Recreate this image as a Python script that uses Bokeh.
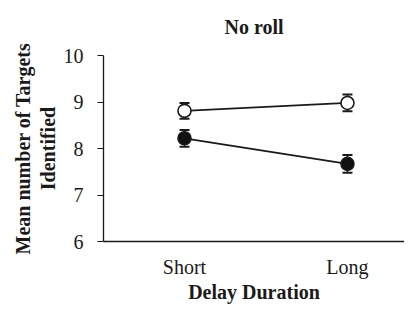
from bokeh.plotting import figure
from bokeh.models import FixedTicker, Whisker, ColumnDataSource, Range1d, Title
from bokeh.embed import file_html
from bokeh.resources import INLINE

categories = ["Short", "Long"]
x_pos = [1, 2]
open_mean = [8.81, 8.98]
open_err = [0.17, 0.18]
filled_mean = [8.22, 7.67]
filled_err = [0.18, 0.19]
y_ticks = [6, 7, 8, 9, 10]
title_text = "No roll"

FONT = "Liberation Serif"
INK = "#1a1a1a"

p = figure(width=404, height=305, output_backend="svg", toolbar_location=None,
           x_range=Range1d(0.503, 2.350), y_range=Range1d(6, 10),
           min_border_left=103, min_border_right=0, min_border_top=0, min_border_bottom=56)
p.title = Title(text=title_text, align="center", vertical_align="top", text_font=FONT,
                text_font_size="20px", text_font_style="bold", text_color=INK, standoff=31)
p.outline_line_color = None
p.grid.visible = False
p.background_fill_color = "white"

p.xaxis.ticker = FixedTicker(ticks=x_pos)
p.xaxis.major_label_overrides = {x: c for x, c in zip(x_pos, categories)}
p.xaxis.major_tick_line_color = None
p.xaxis.major_tick_in = 0
p.xaxis.major_tick_out = 0
p.xaxis.minor_tick_line_color = None
p.xaxis.axis_label = "Delay Duration"
p.yaxis.ticker = FixedTicker(ticks=y_ticks)
p.yaxis.minor_tick_line_color = None
p.yaxis.major_tick_in = 0
p.yaxis.major_tick_out = 6
p.yaxis.major_tick_line_color = INK
p.yaxis.major_tick_line_width = 1.2
p.yaxis.axis_label = "Mean number of Targets\nIdentified"
p.yaxis.axis_label_text_line_height = 1.1
for ax in (p.xaxis, p.yaxis):
    ax.axis_line_color = INK
    ax.axis_line_width = 1.3
    ax.major_label_text_font = FONT
    ax.major_label_text_font_size = "20px"
    ax.major_label_text_color = INK
    ax.axis_label_text_font = FONT
    ax.axis_label_text_font_size = "20px"
    ax.axis_label_text_font_style = "bold"
    ax.axis_label_text_color = INK
p.xaxis.major_label_standoff = 14
p.xaxis.axis_label_standoff = 0
p.yaxis.major_label_standoff = 14
p.yaxis.axis_label_standoff = 2

for mean, err, fill in ((open_mean, open_err, "white"), (filled_mean, filled_err, "#111111")):
    src = ColumnDataSource(dict(x=x_pos, y=mean,
                                lo=[m - e for m, e in zip(mean, err)],
                                hi=[m + e for m, e in zip(mean, err)]))
    p.line("x", "y", source=src, line_color=INK, line_width=1.8)
    p.scatter("x", "y", source=src, size=13, fill_color=fill, line_color=INK, line_width=1.6)
    w = Whisker(base="x", lower="lo", upper="hi", source=src, line_color=INK, line_width=1.6)
    for h in (w.upper_head, w.lower_head):
        h.size = 10
        h.line_width = 2
        h.line_color = INK
    p.add_layout(w)

open("out.html", "w").write(file_html(p, INLINE))
